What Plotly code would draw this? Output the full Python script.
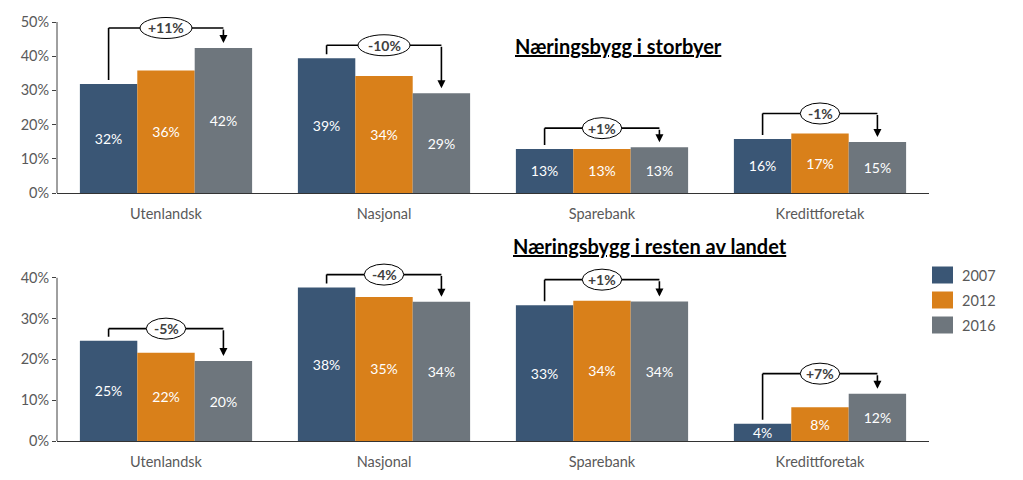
import plotly.graph_objects as go

# ---------------- data ----------------
categories = ["Utenlandsk", "Nasjonal", "Sparebank", "Kredittforetak"]
years = ["2007", "2012", "2016"]

top_2007 = [31.9, 39.4, 12.9, 15.8]
top_2012 = [35.8, 34.2, 12.9, 17.4]
top_2016 = [42.4, 29.2, 13.4, 14.9]
top_change = ["+11%", "-10%", "+1%", "-1%"]
top_title = "Næringsbygg i storbyer"

bot_2007 = [24.6, 37.6, 33.3, 4.2]
bot_2012 = [21.6, 35.3, 34.4, 8.3]
bot_2016 = [19.6, 34.1, 34.2, 11.6]
bot_change = ["-5%", "-4%", "+1%", "+7%"]
bot_title = "Næringsbygg i resten av landet"

top_ticks = [0, 10, 20, 30, 40, 50]
bot_ticks = [0, 10, 20, 30, 40]

# ---------------- style ----------------
W, H = 1023, 480
colors = ["#3A5675", "#D9801A", "#6E767D"]
FONT = "Lato"
GREY = "#595959"
BARGAP = 0.21

x_dom = [57 / W, 929 / W]
top_zero, top_ppp, top_rtop = 193.0, 3.42, 52
bot_zero, bot_ppp, bot_rtop = 441.0, 4.08, 44
top_dom = [1 - top_zero / H, 1 - (top_zero - top_rtop * top_ppp) / H]
bot_dom = [1 - bot_zero / H, 1 - (bot_zero - bot_rtop * bot_ppp) / H]

top_rise = [20, 13, 19, 20]   # bracket rise above tallest bar (px)
bot_rise = [12, 13, 21, 20]

fig = go.Figure()

panels = [
    ("x", "y", [top_2007, top_2012, top_2016]),
    ("x2", "y2", [bot_2007, bot_2012, bot_2016]),
]
for xr, yr, series in panels:
    for k, (yr_name, vals) in enumerate(zip(years, series)):
        fig.add_trace(go.Bar(
            x=categories, y=vals, name=yr_name, xaxis=xr, yaxis=yr,
            marker=dict(color=colors[k], line=dict(width=0)),
            text=[f"{round(v)}%" for v in vals],
            textposition="inside", insidetextanchor="middle", textangle=0,
            textfont=dict(family=FONT, size=14, color="white"),
            showlegend=False, hoverinfo="skip",
        ))

def xaxis_cfg(anchor):
    return dict(domain=x_dom, anchor=anchor, type="category",
                categoryorder="array", categoryarray=categories,
                range=[-0.5, 3.5], showline=True, linecolor="#333333", linewidth=1,
                ticks="outside", ticklen=8, tickcolor="rgba(0,0,0,0)",
                tickfont=dict(family=FONT, size=14.5, color=GREY),
                showgrid=False, zeroline=False, fixedrange=True, automargin=False)

def yaxis_cfg(anchor, dom, rtop, ticks):
    return dict(domain=dom, anchor=anchor, range=[0, rtop],
                tickvals=ticks, ticktext=[f"{t}%" for t in ticks],
                ticks="outside", ticklen=4, tickcolor="#404040", tickwidth=1,
                tickfont=dict(family=FONT, size=14.5, color=GREY),
                showline=False, showgrid=False, zeroline=False, fixedrange=True,
                automargin=False)

fig.update_layout(
    width=W, height=H, autosize=False, margin=dict(l=0, r=0, t=0, b=0, pad=0),
    paper_bgcolor="white", plot_bgcolor="white", showlegend=False,
    barmode="group", bargap=BARGAP, bargroupgap=0,
    uniformtext=dict(minsize=14, mode="show"),
    xaxis=xaxis_cfg("y"), yaxis=yaxis_cfg("x", top_dom, top_rtop, top_ticks),
    xaxis2=xaxis_cfg("y2"), yaxis2=yaxis_cfg("x2", bot_dom, bot_rtop, bot_ticks),
    font=dict(family=FONT, color=GREY),
)

shapes = []
annos = []

for yr, xd, ticks in (("y", "x domain", top_ticks), ("y2", "x2 domain", bot_ticks)):
    shapes.append(dict(type="line", xref=xd, yref=yr, x0=0, x1=0, y0=0, y1=ticks[-1],
                       line=dict(color="#404040", width=1)))

bar_w = (1 - BARGAP) / 3
for xr, yr, series, changes, rise, ppp in (
        ("x", "y", [top_2007, top_2012, top_2016], top_change, top_rise, top_ppp),
        ("x2", "y2", [bot_2007, bot_2012, bot_2016], bot_change, bot_rise, bot_ppp)):
    for i in range(len(categories)):
        v0, v1, v2 = series[0][i], series[1][i], series[2][i]
        lvl = max(v0, v1, v2) + rise[i] / ppp
        xl, xrr = i - bar_w, i + bar_w
        start = v0 + 4 / ppp
        tip = v2 + 5 / ppp
        ln = dict(color="black", width=1.6)
        shapes.append(dict(type="line", xref=xr, yref=yr, x0=xl, x1=xl, y0=start, y1=lvl, line=ln))
        shapes.append(dict(type="line", xref=xr, yref=yr, x0=xl, x1=xrr, y0=lvl, y1=lvl, line=ln))
        annos.append(dict(xref=xr, yref=yr, axref=xr, ayref=yr, x=xrr, y=tip, ax=xrr, ay=lvl,
                          text="", showarrow=True, arrowhead=2, arrowwidth=1.6, arrowsize=1,
                          arrowcolor="black", standoff=0, startstandoff=0))
        ew = 12.5 * len(changes[i]) + 2
        shapes.append(dict(type="circle", xref=xr, yref=yr, xsizemode="pixel", ysizemode="pixel",
                           xanchor=i, yanchor=lvl, x0=-ew / 2, x1=ew / 2, y0=-10.5, y1=10.5,
                           fillcolor="white", line=dict(color="black", width=1)))
        annos.append(dict(xref=xr, yref=yr, x=i, y=lvl, text=f"<b>{changes[i]}</b>",
                          showarrow=False, yanchor="middle",
                          font=dict(family=FONT, size=14, color="#404040")))

annos.append(dict(xref="paper", yref="paper", x=618 / W, y=1 - 46 / H, yanchor="middle",
                  text=f"<b><u>{top_title}</u></b>", showarrow=False,
                  font=dict(family=FONT, size=20, color="black")))
annos.append(dict(xref="paper", yref="paper", x=650 / W, y=1 - 246 / H, yanchor="middle",
                  text=f"<b><u>{bot_title}</u></b>", showarrow=False,
                  font=dict(family=FONT, size=20, color="black")))

for k, name in enumerate(years):
    cy = 275 + 25 * k
    shapes.append(dict(type="rect", xref="paper", yref="paper",
                       x0=932 / W, x1=953 / W, y0=1 - (cy + 8.5) / H, y1=1 - (cy - 8.5) / H,
                       fillcolor=colors[k], line=dict(width=0)))
    annos.append(dict(xref="paper", yref="paper", x=960 / W, y=1 - cy / H, xanchor="left",
                      yanchor="middle", text=name, showarrow=False,
                      font=dict(family=FONT, size=14.5, color=GREY)))

fig.update_layout(shapes=shapes, annotations=annos)
fig.write_html("out.html")
